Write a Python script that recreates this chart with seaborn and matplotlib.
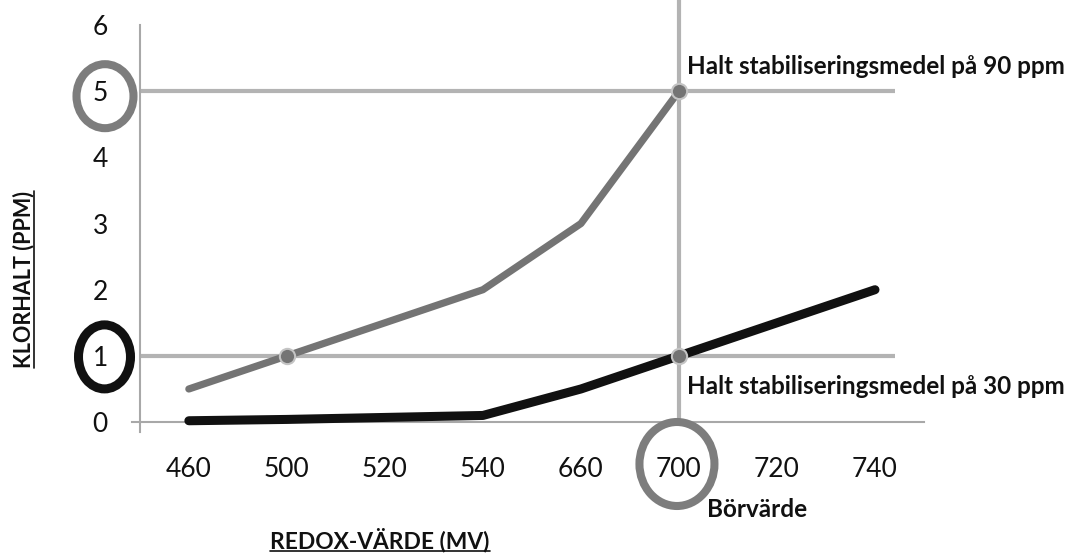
import numpy as np
import pandas as pd
import matplotlib
matplotlib.use("Agg")
import matplotlib.pyplot as plt
from matplotlib.patches import Ellipse
from matplotlib.lines import Line2D
from matplotlib.transforms import IdentityTransform
import seaborn as sns

# ========== Data ==========
CATEGORIES = ["460", "500", "520", "540", "660", "700", "720", "740"]
KLOR_90PPM = [0.5, 1.0, 1.5, 2.0, 3.0, 5.0, np.nan, np.nan]
KLOR_30PPM = [0.02, 0.04, 0.07, 0.1, 0.5, 1.0, 1.5, 2.0]
Y_TICKS = [0, 1, 2, 3, 4, 5, 6]
LIMIT_HIGH = 5
LIMIT_LOW = 1
SETPOINT = "700"

LABEL_HIGH = "Halt stabiliseringsmedel på 90 ppm"
LABEL_LOW = "Halt stabiliseringsmedel på 30 ppm"
LABEL_SET = "Börvärde"
X_LABEL = "REDOX-VÄRDE (MV)"
Y_LABEL = "KLORHALT (PPM)"

GRAY_LINE = "#747474"
BLACK_LINE = "#111111"
REF_LINE = "#b3b3b3"
SPINE = "#a8a8a8"
RING_GRAY = "#7d7d7d"
TEXT = "#111111"

sns.set_style("white")
plt.rcParams["font.family"] = ["Lato", "DejaVu Sans"]

df = pd.DataFrame({
    "redox": CATEGORIES * 2,
    "klorhalt": KLOR_90PPM + KLOR_30PPM,
    "serie": ["90 ppm"] * len(CATEGORIES) + ["30 ppm"] * len(CATEGORIES),
})

W, H = 1077, 553
fig = plt.figure(figsize=(W / 100, H / 100), dpi=100)
ax = fig.add_axes([132 / W, 1 - 432 / H, 792 / W, 407 / H])

# reference lines (behind the data)
n = len(CATEGORIES)
ax.hlines([LIMIT_HIGH, LIMIT_LOW], -0.5, n - 0.8, color=REF_LINE, lw=3, zorder=1)
set_idx = CATEGORIES.index(SETPOINT)
ax.axvline(set_idx, ymin=0.03, ymax=1.065, color=REF_LINE, lw=3, zorder=1, clip_on=False)

sns.lineplot(data=df, x="redox", y="klorhalt", hue="serie",
             palette={"90 ppm": GRAY_LINE, "30 ppm": BLACK_LINE},
             legend=False, sort=False, ax=ax, zorder=3,
             solid_capstyle="round", solid_joinstyle="round")
for line in ax.lines[-2:]:
    if line.get_color() == GRAY_LINE:
        line.set_linewidth(5.2)
    else:
        line.set_linewidth(6.5)

# markers where the curves meet the limits
for vals in (KLOR_90PPM, KLOR_30PPM):
    for i, v in enumerate(vals):
        if v in (LIMIT_HIGH, LIMIT_LOW):
            ax.plot(i, v, "o", ms=11, mfc=GRAY_LINE, mec="#c4c4c4", mew=1.5, zorder=5)

ax.set_xlim(-0.58, n - 0.5)
ax.set_ylim(-0.15, 6)
ax.spines["top"].set_visible(False)
ax.spines["right"].set_visible(False)
ax.spines["bottom"].set_position(("data", 0))
ax.spines["left"].set_position(("data", -0.5))
for s in ("left", "bottom"):
    ax.spines[s].set_color(SPINE)
    ax.spines[s].set_linewidth(1.5)

ax.set_xticks(np.arange(-0.5, n, 1.0))
ax.set_xticklabels([])
ax.set_xticks(np.arange(n), minor=True)
ax.set_xticklabels(CATEGORIES, minor=True)
ax.tick_params(axis="x", which="major", direction="out", length=10, width=1.5, color=SPINE)
ax.tick_params(axis="x", which="minor", length=0, pad=25, labelsize=19, labelcolor=TEXT)
ax.set_yticks(Y_TICKS)
ax.set_yticklabels([str(t) for t in Y_TICKS])
ax.tick_params(axis="y", direction="out", length=10, width=1.5, color=SPINE, pad=13,
               labelsize=19, labelcolor=TEXT)
ax.set_xlabel("")
ax.set_ylabel("")
ax.grid(False)

# annotations
ax.annotate(LABEL_HIGH, xy=(set_idx, LIMIT_HIGH), xytext=(6, 18), textcoords="offset points",
            fontsize=17.5, fontweight="bold", color=TEXT, va="center", ha="left")
ax.annotate(LABEL_LOW, xy=(set_idx, LIMIT_LOW), xytext=(6, -22), textcoords="offset points",
            fontsize=17.5, fontweight="bold", color=TEXT, va="center", ha="left")
ax.annotate(LABEL_SET, xy=(set_idx, 0), xytext=(20, -63), textcoords="offset points",
            fontsize=17.5, fontweight="bold", color=TEXT, va="center", ha="left")

fig.canvas.draw()
renderer = fig.canvas.get_renderer()


# highlight circles
def ring(x, y, w, h, color, lw):
    e = Ellipse((x, y), w, h, fill=False, edgecolor=color, linewidth=lw,
                transform=IdentityTransform(), zorder=6)
    e.set_clip_on(False)
    fig.add_artist(e)


y5 = ax.transData.transform((0, LIMIT_HIGH))[1]
y1 = ax.transData.transform((0, LIMIT_LOW))[1]
xs = ax.transData.transform((set_idx, 0))[0]
ring(105, y5 - 5, 57, 64, RING_GRAY, 5.8)
ring(104.5, y1 - 1, 52, 64, TEXT, 6.5)
ring(xs - 2, H - 464, 75, 84, RING_GRAY, 5.8)

# underlined axis labels
xl = fig.text(380 / W, 1 - 540 / H, X_LABEL, fontsize=16.4, fontweight="bold",
              ha="center", va="center", color=TEXT)
yl = fig.text(24 / W, 1 - 279 / H, Y_LABEL, fontsize=15.5, fontweight="bold",
              ha="center", va="center", rotation=90, color=TEXT)
fig.canvas.draw()
bb = xl.get_window_extent(renderer)
fig.add_artist(Line2D([bb.x0, bb.x1], [bb.y0 + 1, bb.y0 + 1], color=TEXT, lw=1.2,
                      transform=IdentityTransform()))
bb = yl.get_window_extent(renderer)
fig.add_artist(Line2D([bb.x1 - 1, bb.x1 - 1], [bb.y0, bb.y1], color=TEXT, lw=1.2,
                      transform=IdentityTransform()))

fig.savefig("out.png", dpi=100)
